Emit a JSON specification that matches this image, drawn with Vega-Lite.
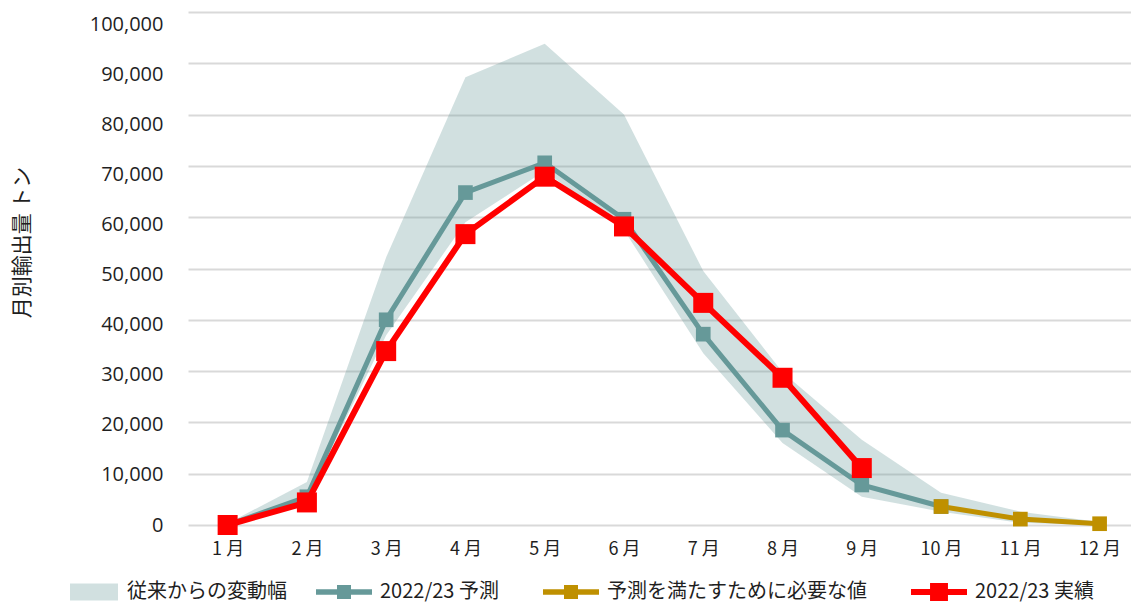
{
  "$schema": "https://vega.github.io/schema/vega-lite/v6.json",
  "autosize": {"type": "none"},
  "padding": {"left": 188, "top": 12, "right": 0, "bottom": 78},
  "width": 943,
  "height": 513,
  "background": "#ffffff",
  "config": {
    "view": {"stroke": null},
    "font": "Noto Sans CJK JP",
    "axis": {"labelColor": "#1f1f1f", "titleColor": "#1f1f1f"},
    "legend": {"labelColor": "#1f1f1f"}
  },
  "datasets": {
    "band": [
      {"月": "1 月", "下限": 0, "上限": 300},
      {"月": "2 月", "下限": 5000, "上限": 8400},
      {"月": "3 月", "下限": 37000, "上限": 52200},
      {"月": "4 月", "下限": 59000, "上限": 87300},
      {"月": "5 月", "下限": 69000, "上限": 93800},
      {"月": "6 月", "下限": 57500, "上限": 80000},
      {"月": "7 月", "下限": 33500, "上限": 49500},
      {"月": "8 月", "下限": 16000, "上限": 29800},
      {"月": "9 月", "下限": 5500, "上限": 16600},
      {"月": "10 月", "下限": 2600, "上限": 6300},
      {"月": "11 月", "下限": 400, "上限": 2600},
      {"月": "12 月", "下限": 0, "上限": 600}
    ],
    "series": [
      {"月": "1 月", "系列": "2022/23 予測", "値": 0},
      {"月": "2 月", "系列": "2022/23 予測", "値": 5500},
      {"月": "3 月", "系列": "2022/23 予測", "値": 40000},
      {"月": "4 月", "系列": "2022/23 予測", "値": 64800},
      {"月": "5 月", "系列": "2022/23 予測", "値": 70600},
      {"月": "6 月", "系列": "2022/23 予測", "値": 59600},
      {"月": "7 月", "系列": "2022/23 予測", "値": 37200},
      {"月": "8 月", "系列": "2022/23 予測", "値": 18500},
      {"月": "9 月", "系列": "2022/23 予測", "値": 7800},
      {"月": "10 月", "系列": "2022/23 予測", "値": 3600},
      {"月": "10 月", "系列": "予測を満たすために必要な値", "値": 3600},
      {"月": "11 月", "系列": "予測を満たすために必要な値", "値": 1150},
      {"月": "12 月", "系列": "予測を満たすために必要な値", "値": 250},
      {"月": "1 月", "系列": "2022/23 実績", "値": 0},
      {"月": "2 月", "系列": "2022/23 実績", "値": 4400},
      {"月": "3 月", "系列": "2022/23 実績", "値": 33900},
      {"月": "4 月", "系列": "2022/23 実績", "値": 56700},
      {"月": "5 月", "系列": "2022/23 実績", "値": 67900},
      {"月": "6 月", "系列": "2022/23 実績", "値": 58200},
      {"月": "7 月", "系列": "2022/23 実績", "値": 43300},
      {"月": "8 月", "系列": "2022/23 実績", "値": 28700},
      {"月": "9 月", "系列": "2022/23 実績", "値": 11100}
    ]
  },
  "encoding": {
    "x": {
      "field": "月",
      "type": "ordinal",
      "sort": ["1 月", "2 月", "3 月", "4 月", "5 月", "6 月", "7 月", "8 月", "9 月", "10 月", "11 月", "12 月"],
      "scale": {"type": "point", "padding": 0.448, "align": 0.558},
      "axis": {
        "title": null,
        "domain": false,
        "ticks": false,
        "grid": false,
        "labelAngle": 0,
        "labelFont": "Noto Sans CJK JP",
        "labelFontSize": 18,
        "labelPadding": 15
      }
    }
  },
  "layer": [
    {
      "data": {"name": "band"},
      "mark": {"type": "area", "opacity": 0.3},
      "encoding": {
        "y": {
          "field": "下限",
          "type": "quantitative",
          "scale": {"domain": [0, 100000], "nice": false},
          "axis": {
            "title": "月別輸出量 トン",
            "titleFont": "Noto Sans CJK JP",
            "titleFontSize": 21,
            "titleFontWeight": "normal",
            "titleX": -166,
            "titleY": 230,
            "titleAlign": "center",
            "titleBaseline": "middle",
            "titleAngle": 270,
            "values": [0, 10000, 20000, 30000, 40000, 50000, 60000, 70000, 80000, 90000, 100000],
            "format": ",.0f",
            "domain": false,
            "ticks": false,
            "grid": true,
            "gridColor": "#d9d9d9",
            "gridWidth": 2,
            "labelFont": "Open Sans",
            "labelFontSize": 20,
            "labelPadding": 25,
            "labelOffset": {
              "condition": {"test": "datum.value >= 0", "expr": "datum.value / 100000 * 12"},
              "value": 0
            }
          }
        },
        "y2": {"field": "上限"},
        "fill": {
          "datum": "従来からの変動幅",
          "type": "nominal",
          "scale": {"domain": ["従来からの変動幅"], "range": ["#669999"]},
          "legend": {
            "title": null,
            "orient": "none",
            "legendX": -122,
            "legendY": 552,
            "padding": 0,
            "symbolSize": 3136,
            "symbolStrokeWidth": 0,
            "symbolOpacity": 0.3,
            "symbolType": "M-0.857,-0.3 H0.857 V0.3 H-0.857 Z",
            "labelOffset": 5,
            "labelLimit": 400,
            "labelFont": "Noto Sans CJK JP",
            "labelFontSize": 20
          }
        }
      }
    },
    {
      "data": {"name": "series"},
      "transform": [{"filter": "datum['系列'] !== '2022/23 実績'"}],
      "mark": {"type": "line", "strokeWidth": 5},
      "encoding": {
        "y": {"field": "値", "type": "quantitative"},
        "color": {
          "field": "系列",
          "type": "nominal",
          "scale": {
            "domain": ["2022/23 予測", "予測を満たすために必要な値", "2022/23 実績"],
            "range": ["#669999", "#bf9000", "#ff0000"]
          },
          "legend": {
            "title": null,
            "orient": "none",
            "direction": "horizontal",
            "columns": 3,
            "legendX": 128,
            "legendY": 552,
            "padding": 0,
            "columnPadding": 44,
            "symbolSize": 3136,
            "symbolStrokeWidth": 0,
            "symbolType": "M-1,-0.1 H-0.25 V-0.25 H0.25 V-0.1 H1 V0.1 H0.25 V0.25 H-0.25 V0.1 H-1 Z",
            "labelOffset": 8,
            "labelLimit": 400,
            "labelFont": "Noto Sans CJK JP",
            "labelFontSize": 20,
            "encode": {
              "symbols": {
                "update": {
                  "fill": {"scale": "color", "field": "value"},
                  "stroke": {"value": "transparent"},
                  "strokeWidth": {"value": 0},
                  "opacity": {"value": 1},
                  "size": {"value": 3136},
                  "shape": [
                    {"test": "datum.value === '2022/23 実績'", "value": "M-1,-0.11 H-0.32 V-0.32 H0.32 V-0.11 H1 V0.11 H0.32 V0.32 H-0.32 V0.11 H-1 Z"},
                    {"value": "M-1,-0.1 H-0.25 V-0.25 H0.25 V-0.1 H1 V0.1 H0.25 V0.25 H-0.25 V0.1 H-1 Z"}
                  ]
                }
              }
            }
          }
        }
      }
    },
    {
      "data": {"name": "series"},
      "transform": [{"filter": "datum['系列'] !== '2022/23 実績'"}],
      "mark": {"type": "point", "shape": "square", "filled": true, "opacity": 1, "size": 215},
      "encoding": {
        "y": {"field": "値", "type": "quantitative"},
        "color": {"field": "系列", "type": "nominal"}
      }
    },
    {
      "data": {"name": "series"},
      "transform": [{"filter": "datum['系列'] === '2022/23 実績'"}],
      "mark": {"type": "line", "strokeWidth": 6},
      "encoding": {
        "y": {"field": "値", "type": "quantitative"},
        "color": {"field": "系列", "type": "nominal"}
      }
    },
    {
      "data": {"name": "series"},
      "transform": [{"filter": "datum['系列'] === '2022/23 実績'"}],
      "mark": {"type": "point", "shape": "square", "filled": true, "opacity": 1, "size": 400},
      "encoding": {
        "y": {"field": "値", "type": "quantitative"},
        "color": {"field": "系列", "type": "nominal"}
      }
    }
  ]
}
